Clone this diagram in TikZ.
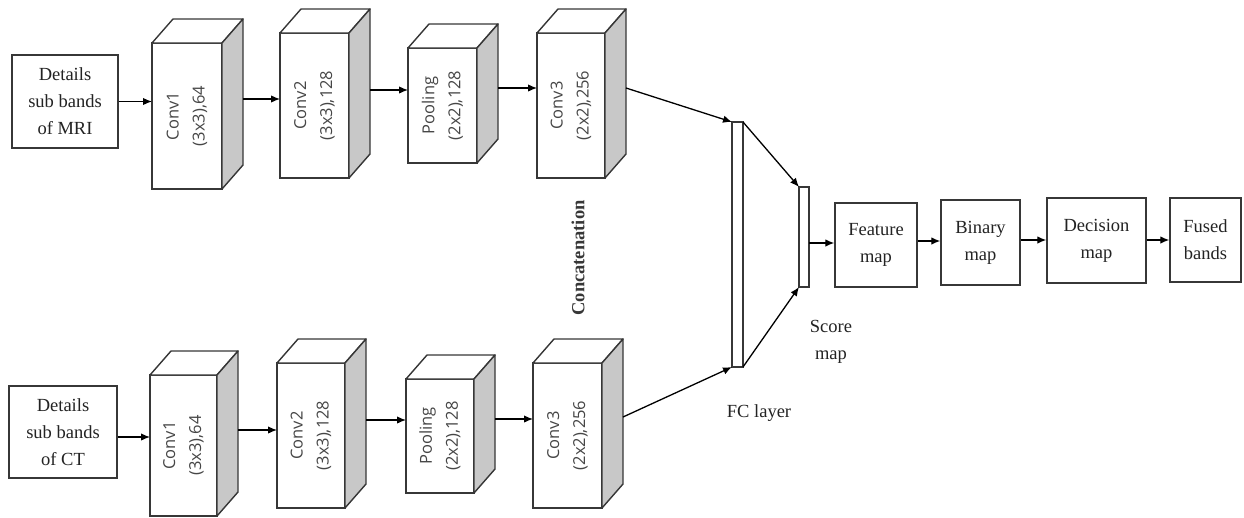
\documentclass[tikz,border=0pt]{standalone}
\usepackage{fontspec}
\setmainfont{Liberation Serif}
\newfontfamily\cubefont{Open Sans}
\usetikzlibrary{arrows.meta,calc}

\definecolor{edge}{RGB}{55,55,55}
\definecolor{sidegray}{RGB}{200,200,200}
\definecolor{inkgray}{RGB}{70,70,70}
\definecolor{txt}{RGB}{35,35,35}

\tikzset{
  box/.style={draw=edge, line width=1.4pt, fill=white, inner sep=0pt, align=center,
    font=\fontsize{18.5}{27}\selectfont, text=txt},
  cubefront/.style={draw=edge, line width=1.4pt, fill=white, inner sep=0pt, outer sep=0pt},
  cubeface/.style={draw=edge, line width=1.4pt, line join=round},
  cubetext/.style={rotate=90, align=center, font=\cubefont\fontsize{16.5}{26}\selectfont, text=inkgray},
  arr/.style={draw=black, line width=1.3pt, -{Latex[length=9pt,width=7.5pt]}},
  thinbar/.style={draw=edge, line width=1.4pt, fill=white, inner sep=0pt, outer sep=0pt},
  plaintext/.style={font=\fontsize{18.5}{27}\selectfont, text=txt, align=center},
}

% cuboid: name, x1, y1, x2, y2 of the front face, two text lines
\newcommand{\drawcuboid}[7]{%
  \node[cubefront, minimum width={#4-#2}, minimum height={#5-#3}] (#1) at ({(#2+#4)/2},{(#3+#5)/2}) {};
  \draw[cubeface, fill=white] (#1.north west) -- ++(21,-24) -- ($(#1.north east)+(21,-24)$) -- (#1.north east) -- cycle;
  \draw[cubeface, fill=sidegray] (#1.north east) -- ++(21,-24) -- ($(#1.south east)+(21,-24)$) -- (#1.south east) -- cycle;
  \coordinate (#1-back) at ($(#1.east)+(21,-24)$);
  \node[cubetext] (#1-txt) at (#1.center) {#6\\#7};
}

\begin{document}
\begin{tikzpicture}[x=1pt,y=-1pt]
\useasboundingbox (0,0) rectangle (1244,517);

% inputs
\node[box, minimum width=106, minimum height=93] (mri) at (65,101.5) {Details\\sub bands\\of MRI};
\node[box, minimum width=108, minimum height=92] (ct) at (63,432) {Details\\sub bands\\of CT};

% MRI branch
\drawcuboid{mc1}{152}{43}{222}{189}{Conv1}{(3x3),64}
\drawcuboid{mc2}{280}{33}{349}{178}{Conv2}{(3x3),128}
\drawcuboid{mp}{408}{48}{477}{163}{Pooling}{(2x2),128}
\drawcuboid{mc3}{537}{33}{605}{178}{Conv3}{(2x2),256}

% CT branch
\drawcuboid{cc1}{150}{375}{217}{516}{Conv1}{(3x3),64}
\drawcuboid{cc2}{277}{363}{345}{508}{Conv2}{(3x3),128}
\drawcuboid{cp}{406}{379}{474}{493}{Pooling}{(2x2),128}
\drawcuboid{cc3}{533}{363}{602}{508}{Conv3}{(2x2),256}

% fully connected layer and score map
\node[thinbar, minimum width=11, minimum height=245] (fc) at (737.5,244.5) {};
\node[thinbar, minimum width=10, minimum height=100] (score) at (804,237) {};

% output stages
\node[box, minimum width=82, minimum height=84] (feat) at (876,245) {Feature\\map};
\node[box, minimum width=79, minimum height=85] (bin) at (980.5,242.5) {Binary\\map};
\node[box, minimum width=99, minimum height=85] (dec) at (1096.5,240.5) {Decision\\map};
\node[box, minimum width=71, minimum height=84] (fused) at (1205.5,240) {Fused\\bands};

% labels
\node[plaintext, rotate=90, font=\bfseries\fontsize{18.5}{27}\selectfont, text=edge] (concat) at (578,258) {Concatenation};
\node[plaintext] (scorelbl) at (831,342) {Score\\map};
\node[plaintext] (fclbl) at (759,413) {FC layer};

% MRI branch connectors
\draw[arr] (mri.east) -- (mri.east -| mc1.west);
\draw[arr] (mc1-back |- 0,99) -- (mc2.west |- 0,99);
\draw[arr] (mc2-back |- 0,90) -- (mp.west |- 0,90);
\draw[arr] (mp-back |- 0,88) -- (mc3.west |- 0,88);
\draw[arr] (mc3-back |- 0,88) -- (fc.north west);

% CT branch connectors
\draw[arr] (ct.east |- 0,437) -- (cc1.west |- 0,437);
\draw[arr] (cc1-back |- 0,430) -- (cc2.west |- 0,430);
\draw[arr] (cc2-back |- 0,420) -- (cp.west |- 0,420);
\draw[arr] (cp-back |- 0,419) -- (cc3.west |- 0,419);
\draw[arr] (cc3-back |- 0,417) -- (fc.south west);

% head connectors
\draw[arr] (fc.north east) -- (score.north west);
\draw[arr] (fc.south east) -- (score.south west);
\draw[arr] (score.east |- 0,243) -- (feat.west |- 0,243);
\draw[arr] (feat.east |- 0,241) -- (bin.west |- 0,241);
\draw[arr] (bin.east |- 0,240) -- (dec.west |- 0,240);
\draw[arr] (dec.east |- 0,240) -- (fused.west |- 0,240);
\end{tikzpicture}
\end{document}
